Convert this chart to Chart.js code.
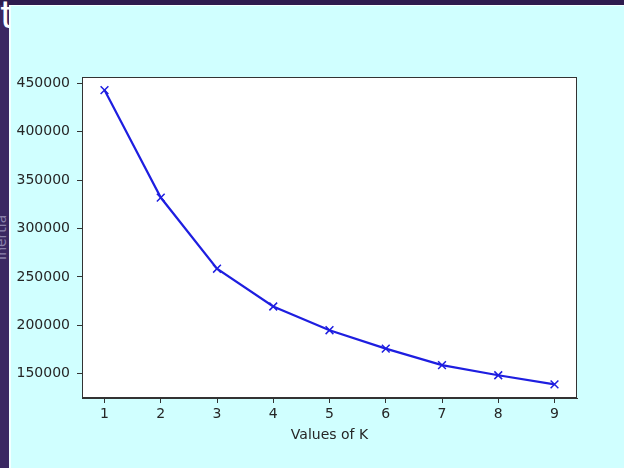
<!DOCTYPE html>
<html>
<head>
<meta charset="utf-8">
<script src="https://cdn.jsdelivr.net/npm/chart.js@4/dist/chart.umd.min.js"></script>
<style>
  html, body { margin:0; padding:0; }
  body { width:624px; height:468px; background:#3a2862; position:relative; overflow:hidden; font-family:'DejaVu Sans', sans-serif; }
  #topbar { position:absolute; left:0; top:0; width:624px; height:5px; background:#2d1b4e; }
  #tletter { position:absolute; left:0px; top:-4px; font-size:38px; line-height:38px; color:#ffffff; z-index:1; }
  #ylab { position:absolute; left:-21px; top:229px; width:45px; height:17px; font-size:14px; line-height:17px; color:#8a82ab; transform:rotate(-90deg); transform-origin:50% 50%; text-align:center; white-space:nowrap; z-index:1; }
  #panel { position:absolute; left:9px; top:5px; right:0; bottom:0; background:#d0ffff; border-left:2px solid #f2ffff; border-top:1px solid #f2ffff; z-index:2; }
  #wrap { position:absolute; left:0; top:0; width:624px; height:468px; z-index:3; }
</style>
</head>
<body>
<div id="topbar"></div>
<div id="tletter">t</div>
<div id="ylab">Inertia</div>
<div id="panel"></div>
<div id="wrap"><canvas id="c" width="624" height="468"></canvas></div>
<script>
const kValues = [1, 2, 3, 4, 5, 6, 7, 8, 9];
const inertia = [443000, 332000, 258500, 219500, 195000, 176000, 159000, 148500, 139000];
const yTicks = [150000, 200000, 250000, 300000, 350000, 400000, 450000];
const xLabel = 'Values of K';

const plotBg = {
  id: 'plotBg',
  beforeDraw(chart) {
    const a = chart.chartArea, ctx = chart.ctx;
    ctx.save();
    ctx.fillStyle = '#ffffff';
    ctx.fillRect(a.left, a.top, a.right - a.left, a.bottom - a.top);
    ctx.restore();
  },
  afterDraw(chart) {
    const a = chart.chartArea, ctx = chart.ctx;
    ctx.save();
    ctx.strokeStyle = '#333333';
    ctx.lineWidth = 1;
    ctx.strokeRect(a.left + 0.5, a.top + 0.5, a.right - a.left - 1, a.bottom - a.top - 1);
    ctx.restore();
  }
};

const font = { family: 'DejaVu Sans', size: 14 };

new Chart(document.getElementById('c'), {
  type: 'line',
  data: {
    datasets: [{
      data: kValues.map((k, i) => ({ x: k, y: inertia[i] })),
      borderColor: '#1e1ee0',
      backgroundColor: '#1e1ee0',
      borderWidth: 2.2,
      pointStyle: 'crossRot',
      pointRadius: 5.5,
      pointBorderWidth: 1.5,
      pointHoverRadius: 5.5,
      tension: 0,
      fill: false
    }]
  },
  options: {
    responsive: false,
    animation: false,
    events: [],
    layout: { padding: { left: 0, top: 77, right: 47, bottom: 0 } },
    plugins: { legend: { display: false }, tooltip: { enabled: false } },
    scales: {
      x: {
        type: 'linear',
        min: 0.6,
        max: 9.4,
        afterBuildTicks(scale) { scale.ticks = kValues.map(v => ({ value: v })); },
        afterFit(scale) { scale.height = 70; },
        ticks: { font: font, color: '#262626', padding: 3, maxRotation: 0, callback: v => String(v) },
        grid: { drawOnChartArea: false, drawTicks: true, tickLength: 5, color: '#333333', tickWidth: 1 },
        border: { display: true, color: '#333333', width: 1 },
        title: { display: true, text: xLabel, font: font, color: '#262626', padding: { top: 4, bottom: 24 } }
      },
      y: {
        type: 'linear',
        min: 125000,
        max: 456500,
        afterBuildTicks(scale) { scale.ticks = yTicks.map(v => ({ value: v })); },
        afterFit(scale) { scale.width = 82; },
        ticks: { font: font, color: '#262626', padding: 7, callback: v => String(v) },
        grid: { drawOnChartArea: false, drawTicks: true, tickLength: 5, color: '#333333', tickWidth: 1 },
        border: { display: true, color: '#333333', width: 1 }
      }
    }
  },
  plugins: [plotBg]
});
</script>
</body>
</html>
